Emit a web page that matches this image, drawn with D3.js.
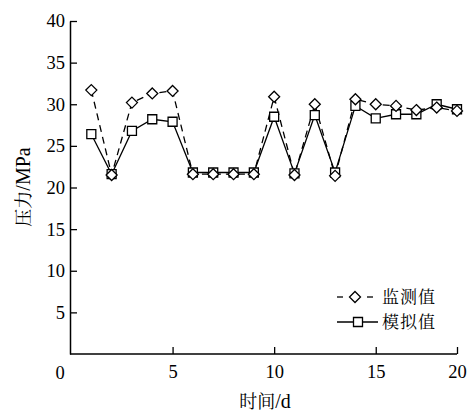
<!DOCTYPE html>
<html>
<head>
<meta charset="utf-8">
<script src="https://cdn.jsdelivr.net/npm/d3@7"></script>
<style>
  body { margin: 0; background: #fff; }
  svg { display: block; }
</style>
</head>
<body>
<div id="chart"></div>
<script>
// data (day 1..19)
const days = [1, 2, 3, 4, 5, 6, 7, 8, 9, 10, 11, 12, 13, 14, 15, 16, 17, 18, 19];
const monitored = [31.7, 21.5, 30.2, 31.3, 31.6, 21.6, 21.6, 21.6, 21.6, 30.9, 21.5, 30.0, 21.4, 30.6, 30.0, 29.8, 29.3, 29.6, 29.2];
const simulated = [26.4, 21.6, 26.8, 28.2, 27.9, 21.8, 21.8, 21.8, 21.8, 28.5, 21.7, 28.7, 21.8, 29.8, 28.3, 28.8, 28.8, 30.0, 29.4];

const yTicks = [5, 10, 15, 20, 25, 30, 35, 40];
// the original axis puts its "20" label at the end of the axis
const xTicks = [5, 10, 15, 19];
const xTickLabels = ["5", "10", "15", "20"];
const seriesNames = ["监测值", "模拟值"];

const width = 470, height = 415;
const margin = { top: 21, right: 13, bottom: 61, left: 70 };

const svg = d3.select("#chart").append("svg")
  .attr("width", width)
  .attr("height", height);

const x = d3.scaleLinear().domain([0, 19]).range([margin.left + 1, width - margin.right]);
const y = d3.scaleLinear().domain([0, 40]).range([height - margin.bottom, margin.top]);

const serif = "'Liberation Serif', 'Times New Roman', serif";
const cjk = "'Noto Serif CJK SC', 'Noto Sans CJK SC', serif";

// y axis, ticks pointing inward
const yAxis = svg.append("g")
  .attr("transform", `translate(${margin.left},0)`)
  .call(d3.axisLeft(y).tickValues(yTicks).tickSize(-7).tickSizeOuter(0).tickPadding(5));

// x axis
const xAxis = svg.append("g")
  .attr("transform", `translate(0,${y(0)})`)
  .call(d3.axisBottom(x).tickValues(xTicks).tickFormat((d, i) => xTickLabels[i])
    .tickSize(-7).tickSizeOuter(0).tickPadding(11));

xAxis.select(".domain").attr("d", `M${margin.left},0H${x(19)}`);

[yAxis, xAxis].forEach(a => {
  a.select(".domain").attr("stroke", "#000").attr("stroke-width", 1.5);
  a.selectAll(".tick line").attr("stroke", "#000").attr("stroke-width", 1.3);
  a.selectAll("text").attr("font-family", serif).attr("font-size", 18.5).attr("fill", "#000");
});

// origin label sits left of the corner
svg.append("text")
  .attr("x", margin.left - 10)
  .attr("y", y(0) + 25)
  .attr("text-anchor", "middle")
  .attr("font-family", serif)
  .attr("font-size", 18.5)
  .text("0");

// axis titles
const xTitle = svg.append("text")
  .attr("x", 265)
  .attr("y", 408)
  .attr("text-anchor", "middle")
  .attr("font-size", 18);
xTitle.append("tspan").attr("font-family", cjk).text("时间");
xTitle.append("tspan").attr("font-family", serif).attr("font-size", 20).text("/d");

const yTitle = svg.append("text")
  .attr("transform", "translate(30,187) rotate(-90)")
  .attr("text-anchor", "middle")
  .attr("font-size", 18);
yTitle.append("tspan").attr("font-family", cjk).text("压力");
yTitle.append("tspan").attr("font-family", serif).attr("font-size", 20).text("/MPa");

// lines
const simData = days.map((d, i) => [d, simulated[i]]);
const monData = days.map((d, i) => [d, monitored[i]]);
const line = d3.line().x(d => x(d[0])).y(d => y(d[1]));

svg.append("path")
  .datum(simData)
  .attr("fill", "none")
  .attr("stroke", "#000")
  .attr("stroke-width", 1.3)
  .attr("d", line);

svg.append("path")
  .datum(monData)
  .attr("fill", "none")
  .attr("stroke", "#000")
  .attr("stroke-width", 1.3)
  .attr("stroke-dasharray", "7,5")
  .attr("d", line);

// markers
const squareSym = d3.symbol().type(d3.symbolSquare).size(81);
const diamondPath = "M0,-5.5L5.5,0L0,5.5L-5.5,0Z";

svg.selectAll("path.sim")
  .data(simData)
  .enter().append("path")
  .attr("class", "sim")
  .attr("transform", d => `translate(${x(d[0])},${y(d[1])})`)
  .attr("d", squareSym)
  .attr("fill", "#fff")
  .attr("stroke", "#000")
  .attr("stroke-width", 1.3);

svg.selectAll("path.mon")
  .data(monData)
  .enter().append("path")
  .attr("class", "mon")
  .attr("transform", d => `translate(${x(d[0])},${y(d[1])})`)
  .attr("d", diamondPath)
  .attr("fill", "#fff")
  .attr("stroke", "#000")
  .attr("stroke-width", 1.3);

// legend
const rowGap = 25;
const legend = svg.append("g").attr("transform", "translate(337,297)");
seriesNames.forEach((name, i) => {
  const row = legend.append("g").attr("transform", `translate(0,${i * rowGap})`);
  if (i === 0) {
    row.append("line").attr("x1", 0).attr("x2", 6).attr("stroke", "#000").attr("stroke-width", 1.3);
    row.append("line").attr("x1", 30).attr("x2", 36).attr("stroke", "#000").attr("stroke-width", 1.3);
    row.append("path").attr("transform", "translate(18,0)").attr("d", diamondPath)
      .attr("fill", "#fff").attr("stroke", "#000").attr("stroke-width", 1.3);
  } else {
    row.append("line").attr("x1", 0).attr("x2", 41).attr("stroke", "#000").attr("stroke-width", 1.3);
    row.append("path").attr("transform", "translate(21,0)").attr("d", squareSym)
      .attr("fill", "#fff").attr("stroke", "#000").attr("stroke-width", 1.3);
  }
  row.append("text")
    .attr("x", 45)
    .attr("dy", "0.36em")
    .attr("font-family", cjk)
    .attr("font-size", 17)
    .attr("letter-spacing", 1)
    .text(name);
});
</script>
</body>
</html>
